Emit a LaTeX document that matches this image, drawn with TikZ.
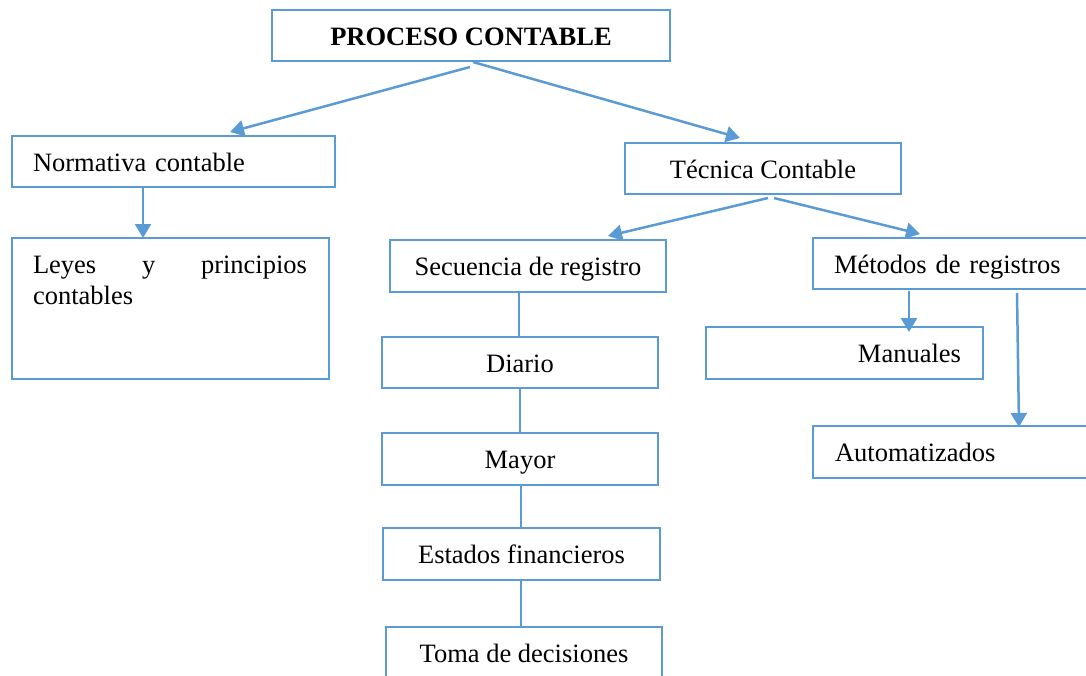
\documentclass[tikz,border=0pt]{standalone}
\usepackage{fontspec}
\setmainfont{Liberation Serif}
\usetikzlibrary{arrows.meta,calc}
\definecolor{ofblue}{HTML}{5B9BD5}
\begin{document}
\begin{tikzpicture}[x=1pt,y=-1pt,
  box/.style={draw=ofblue, line width=2.5pt, rectangle, inner sep=0pt, outer sep=0pt,
    font=\fontsize{26.5}{31}\selectfont, text height=24pt, text depth=5pt},
  leftbox/.style={box, align=left, inner xsep=#1},
  rightbox/.style={box, align=right, inner xsep=#1},
  txt/.style={inner sep=0pt, outer sep=0pt, font=\fontsize{26.5}{31}\selectfont},
  conn/.style={draw=ofblue, line width=2.5pt},
  arr/.style={conn, -{Triangle[length=14pt,width=16pt]}}]
\useasboundingbox (0,0) rectangle (1086,675);
\fill[white] (0,0) rectangle (1086,675);
% boxes
\node[box, minimum width=398pt, minimum height=51pt, font=\fontsize{26.5}{31}\selectfont\bfseries] (proc) at (471,35.5) {PROCESO CONTABLE};
\node[leftbox=21pt, text width=281pt, minimum width=323pt, minimum height=51pt] (norm) at (173.5,161.5) {Normativa contable};
\node[box, minimum width=276pt, minimum height=51pt] (tec) at (763,168.5) {Técnica Contable};
\node[box, minimum width=317pt, minimum height=141pt] (leyes) at (170.5,308.5) {};
\node[txt, anchor=base west] (leyes1) at (33,273) {\hbox to 274pt{Leyes\hfill y\hfill principios}};
\node[txt, anchor=base west] (leyes2) at (33,304) {contables};
\node[box, minimum width=276pt, minimum height=52pt] (sec) at (528,266) {Secuencia de registro};
\node[leftbox=21pt, text width=237pt, minimum width=279pt, minimum height=51pt] (met) at (952.5,263.5) {Métodos de registros};
\node[rightbox=22pt, text width=233pt, minimum width=277pt, minimum height=52pt] (man) at (844.5,353) {Manuales};
\node[box, minimum width=276pt, minimum height=51pt] (dia) at (520,362.5) {Diario};
\node[box, minimum width=276pt, minimum height=52pt] (may) at (520,459) {Mayor};
\node[leftbox=22pt, text width=235pt, minimum width=279pt, minimum height=52pt] (auto) at (952.5,452) {Automatizados};
\node[box, minimum width=277pt, minimum height=52pt] (est) at (521.5,554) {Estados financieros};
\node[box, minimum width=276pt, minimum height=52pt] (toma) at (524,653) {Toma de decisiones};
% connectors
\draw[arr] ($(proc.south)+(-1,6)$) -- ($(norm.north)+(56.5,-4)$);
\draw[arr] ($(proc.south)+(2,1)$) -- ($(tec.north)+(-23,-5)$);
\draw[arr] ($(norm.south)+(-30.5,0)$) -- ($(leyes.north)+(-27.5,0)$);
\draw[arr] ($(tec.south)+(5,4)$) -- ($(sec.north)+(80,-4)$);
\draw[arr] ($(tec.south)+(11,4)$) -- ($(met.north west)+(107,-4)$);
\draw[conn] ($(sec.south)+(-9,0)$) -- ($(dia.north)+(-1,0)$);
\draw[conn] (dia.south) -- (may.north);
\draw[conn] ($(may.south)+(1,0)$) -- ($(est.north)+(-0.5,0)$);
\draw[conn] ($(est.south)+(-0.5,0)$) -- ($(toma.north)+(-3,0)$);
\draw[arr] ($(met.south west)+(96,2)$) -- ($(man.north)+(64.5,5)$);
\draw[arr] ($(met.south west)+(204,4)$) -- ($(auto.north west)+(206,1)$);
\end{tikzpicture}
\end{document}
